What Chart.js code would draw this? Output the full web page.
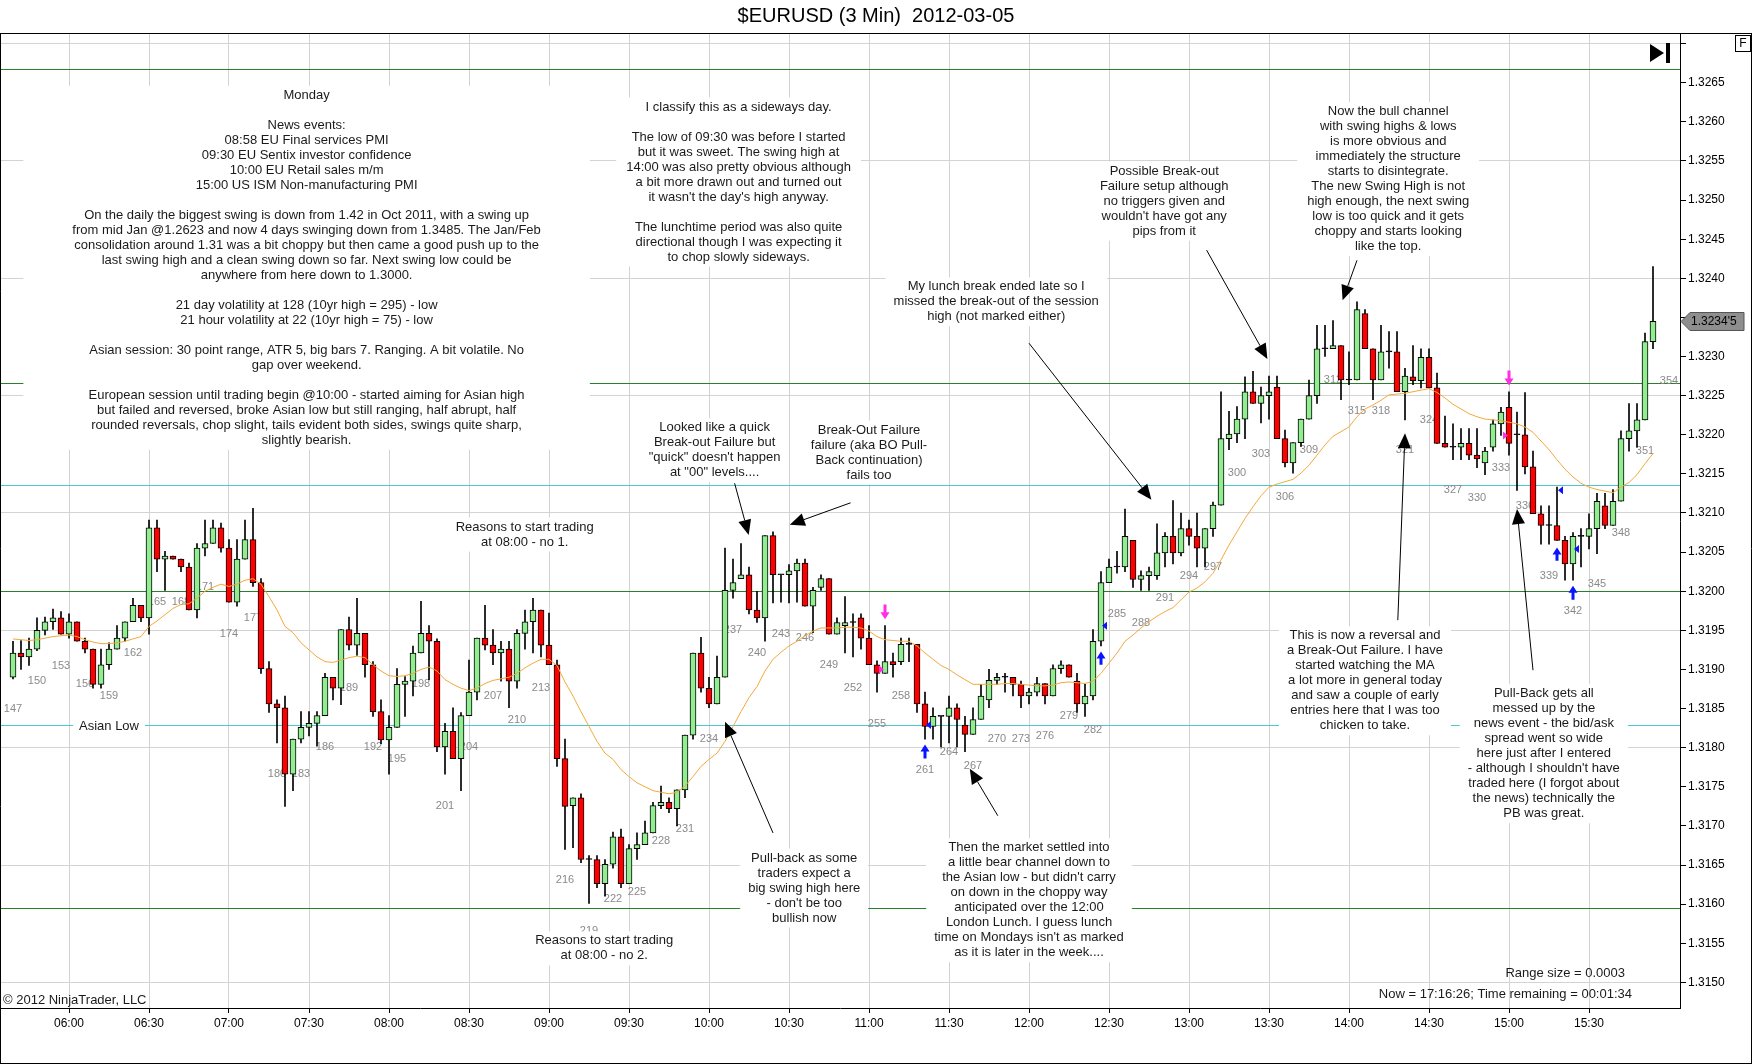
<!DOCTYPE html>
<html>
<head>
<meta charset="utf-8">
<title>$EURUSD (3 Min) 2012-03-05</title>
<script src="https://cdn.jsdelivr.net/npm/chart.js@4.4.1/dist/chart.umd.min.js"></script>
<style>
  html, body { margin: 0; padding: 0; background: #fff; overflow: hidden; }
  canvas { display: block; }
</style>
</head>
<body>
<canvas id="myChart" width="1752" height="1064"></canvas>
<script>
// bars are numbered like NinjaTrader does, first visible bar = 147 at 05:39, 3 minute bars
const firstBar = 147;
const firstBarTime = '05:39';
const barSpan = 3;

const opens = [
  1.31890,1.31921,1.31916,1.31926,1.31950,1.31961,1.31966,1.31945,1.31961,1.31936,
  1.31926,1.31881,1.31906,1.31926,1.31940,1.31961,1.31982,1.31966,1.32081,1.32041,
  1.32045,1.32041,1.32031,1.31976,1.32055,1.32061,1.32081,1.32055,1.31986,1.32041,
  1.32066,1.32011,1.31901,1.31856,1.31851,1.31766,1.31811,1.31826,1.31831,1.31841,
  1.31890,1.31876,1.31951,1.31931,1.31946,1.31906,1.31846,1.31810,1.31826,1.31881,
  1.31885,1.31921,1.31946,1.31936,1.31801,1.31821,1.31786,1.31841,1.31871,1.31940,
  1.31931,1.31921,1.31926,1.31885,1.31946,1.31961,1.31976,1.31931,1.31906,1.31786,
  1.31726,1.31736,1.31657,1.31657,1.31626,1.31651,1.31686,1.31626,1.31671,1.31676,
  1.31691,1.31726,1.31730,1.31722,1.31746,1.31816,1.31921,1.31876,1.31856,1.31890,
  1.32001,1.32016,1.32021,1.31976,1.31966,1.32071,1.32021,1.32021,1.32026,1.32036,
  1.31981,1.32005,1.32016,1.31945,1.31956,1.31960,1.31966,1.31940,1.31906,1.31895,
  1.31910,1.31910,1.31932,1.31932,1.31856,1.31827,1.31840,1.31840,1.31851,1.31829,
  1.31817,1.31836,1.31861,1.31886,1.31890,1.31890,1.31881,1.31866,1.31871,1.31882,
  1.31866,1.31901,1.31906,1.31885,1.31856,1.31866,1.31936,1.32011,1.32031,1.32031,
  1.32065,1.32015,1.32020,1.32020,1.32049,1.32070,1.32049,1.32080,1.32070,1.32055,
  1.32080,1.32110,1.32195,1.32201,1.32220,1.32255,1.32240,1.32250,1.32261,1.32195,
  1.32164,1.32190,1.32220,1.32250,1.32310,1.32310,1.32314,1.32270,1.32270,1.32355,
  1.32310,1.32270,1.32306,1.32306,1.32255,1.32274,1.32269,1.32299,1.32260,1.32189,
  1.32184,1.32184,1.32189,1.32174,1.32164,1.32184,1.32214,1.32235,1.32200,1.32200,
  1.32159,1.32099,1.32084,1.32084,1.32065,1.32035,1.32070,1.32070,1.32080,1.32109,
  1.32084,1.32115,1.32195,1.32205,1.32219,1.32319
];
const highs = [
  1.31936,1.31937,1.31940,1.31966,1.31967,1.31977,1.31974,1.31971,1.31961,1.31940,
  1.31926,1.31926,1.31934,1.31956,1.31961,1.31991,1.31982,1.32091,1.32091,1.32051,
  1.32045,1.32041,1.32036,1.32061,1.32091,1.32091,1.32087,1.32066,1.32066,1.32091,
  1.32106,1.32016,1.31910,1.31861,1.31866,1.31811,1.31846,1.31846,1.31846,1.31895,
  1.31890,1.31951,1.31967,1.31991,1.31946,1.31910,1.31861,1.31841,1.31901,1.31891,
  1.31930,1.31987,1.31956,1.31939,1.31831,1.31851,1.31845,1.31912,1.31940,1.31982,
  1.31951,1.31936,1.31936,1.31951,1.31976,1.31991,1.31976,1.31972,1.31912,1.31811,
  1.31736,1.31741,1.31662,1.31662,1.31657,1.31692,1.31696,1.31676,1.31691,1.31706,
  1.31730,1.31751,1.31736,1.31746,1.31816,1.31921,1.31941,1.31890,1.31917,1.32055,
  1.32041,1.32061,1.32031,1.32000,1.32071,1.32076,1.32021,1.32034,1.32041,1.32041,
  1.32005,1.32021,1.32016,1.31966,1.31993,1.31971,1.31971,1.31956,1.31911,1.31956,
  1.31921,1.31940,1.31940,1.31932,1.31871,1.31851,1.31840,1.31866,1.31856,1.31840,
  1.31851,1.31881,1.31900,1.31895,1.31895,1.31890,1.31885,1.31876,1.31890,1.31882,
  1.31906,1.31911,1.31906,1.31895,1.31881,1.31951,1.32025,1.32041,1.32051,1.32105,
  1.32065,1.32026,1.32031,1.32086,1.32075,1.32116,1.32100,1.32091,1.32100,1.32080,
  1.32114,1.32255,1.32230,1.32236,1.32274,1.32281,1.32261,1.32275,1.32275,1.32206,
  1.32190,1.32220,1.32270,1.32340,1.32340,1.32346,1.32314,1.32306,1.32370,1.32360,
  1.32310,1.32340,1.32332,1.32332,1.32285,1.32314,1.32310,1.32310,1.32279,1.32224,
  1.32214,1.32208,1.32208,1.32208,1.32184,1.32219,1.32235,1.32255,1.32229,1.32254,
  1.32179,1.32109,1.32109,1.32133,1.32070,1.32075,1.32080,1.32099,1.32125,1.32125,
  1.32130,1.32205,1.32240,1.32240,1.32330,1.32415
];
const lows = [
  1.31888,1.31900,1.31905,1.31924,1.31944,1.31951,1.31945,1.31940,1.31936,1.31921,
  1.31876,1.31876,1.31900,1.31926,1.31936,1.31961,1.31961,1.31945,1.32025,1.32001,
  1.32041,1.32025,1.31976,1.31966,1.32045,1.32061,1.32050,1.31986,1.31981,1.32041,
  1.32006,1.31895,1.31845,1.31806,1.31725,1.31745,1.31806,1.31815,1.31802,1.31841,
  1.31861,1.31855,1.31925,1.31918,1.31890,1.31840,1.31805,1.31766,1.31826,1.31840,
  1.31866,1.31921,1.31887,1.31795,1.31766,1.31786,1.31745,1.31841,1.31861,1.31925,
  1.31906,1.31885,1.31851,1.31876,1.31926,1.31921,1.31916,1.31906,1.31776,1.31670,
  1.31672,1.31653,1.31601,1.31621,1.31610,1.31646,1.31621,1.31626,1.31657,1.31676,
  1.31691,1.31722,1.31717,1.31700,1.31736,1.31811,1.31871,1.31851,1.31856,1.31890,
  1.31991,1.32016,1.31971,1.31960,1.31936,1.31985,1.31986,1.31985,1.31986,1.31981,
  1.31947,1.32001,1.31945,1.31945,1.31921,1.31916,1.31926,1.31906,1.31871,1.31895,
  1.31890,1.31906,1.31910,1.31845,1.31811,1.31811,1.31801,1.31806,1.31801,1.31795,
  1.31817,1.31836,1.31851,1.31881,1.31871,1.31866,1.31851,1.31856,1.31866,1.31856,
  1.31866,1.31895,1.31890,1.31845,1.31840,1.31861,1.31930,1.32011,1.32023,1.32025,
  1.32005,1.32001,1.32001,1.32015,1.32031,1.32035,1.32045,1.32059,1.32031,1.32031,
  1.32070,1.32110,1.32181,1.32190,1.32195,1.32240,1.32215,1.32220,1.32195,1.32159,
  1.32151,1.32185,1.32220,1.32240,1.32300,1.32310,1.32245,1.32264,1.32270,1.32310,
  1.32245,1.32270,1.32285,1.32255,1.32219,1.32264,1.32260,1.32260,1.32189,1.32184,
  1.32168,1.32168,1.32168,1.32158,1.32149,1.32179,1.32199,1.32174,1.32129,1.32150,
  1.32099,1.32060,1.32060,1.32065,1.32014,1.32014,1.32031,1.32054,1.32048,1.32080,
  1.32084,1.32115,1.32179,1.32184,1.32219,1.32310
];
const closes = [
  1.31921,1.31916,1.31926,1.31950,1.31961,1.31966,1.31945,1.31961,1.31936,1.31926,
  1.31881,1.31906,1.31926,1.31940,1.31961,1.31982,1.31966,1.32081,1.32041,1.32045,
  1.32041,1.32031,1.31976,1.32055,1.32061,1.32081,1.32055,1.31986,1.32041,1.32066,
  1.32011,1.31901,1.31856,1.31851,1.31766,1.31811,1.31826,1.31831,1.31841,1.31890,
  1.31876,1.31951,1.31931,1.31946,1.31906,1.31846,1.31810,1.31826,1.31881,1.31885,
  1.31921,1.31946,1.31936,1.31801,1.31821,1.31786,1.31841,1.31871,1.31940,1.31931,
  1.31921,1.31926,1.31885,1.31946,1.31961,1.31976,1.31931,1.31906,1.31786,1.31725,
  1.31736,1.31657,1.31657,1.31626,1.31651,1.31686,1.31626,1.31671,1.31676,1.31691,
  1.31726,1.31730,1.31722,1.31746,1.31816,1.31921,1.31876,1.31856,1.31890,1.32001,
  1.32011,1.32021,1.31976,1.31966,1.32071,1.32021,1.32021,1.32026,1.32036,1.31981,
  1.32001,1.32016,1.31945,1.31960,1.31960,1.31960,1.31940,1.31906,1.31895,1.31910,
  1.31906,1.31932,1.31932,1.31856,1.31827,1.31840,1.31840,1.31851,1.31836,1.31817,
  1.31836,1.31866,1.31886,1.31890,1.31890,1.31881,1.31866,1.31871,1.31882,1.31866,
  1.31901,1.31906,1.31890,1.31856,1.31866,1.31936,1.32011,1.32031,1.32031,1.32070,
  1.32015,1.32020,1.32025,1.32049,1.32070,1.32049,1.32080,1.32070,1.32055,1.32080,
  1.32110,1.32195,1.32201,1.32220,1.32255,1.32240,1.32250,1.32255,1.32195,1.32164,
  1.32190,1.32220,1.32250,1.32310,1.32310,1.32314,1.32270,1.32270,1.32360,1.32310,
  1.32270,1.32306,1.32306,1.32255,1.32275,1.32269,1.32299,1.32260,1.32189,1.32184,
  1.32184,1.32189,1.32174,1.32169,1.32179,1.32214,1.32229,1.32189,1.32200,1.32159,
  1.32099,1.32084,1.32084,1.32065,1.32035,1.32070,1.32070,1.32080,1.32115,1.32084,
  1.32115,1.32195,1.32205,1.32219,1.32319,1.32345
];
// moving average as plotted on the chart
const movingAvg = [
  1.31939,1.31938,1.31937,1.31938,1.31940,1.31942,1.31943,1.31944,1.31942,1.31938,
  1.31935,1.31933,1.31933,1.31934,1.31936,1.31939,1.31942,1.31955,1.31962,1.31970,
  1.31978,1.31983,1.31984,1.31991,1.32000,1.32005,1.32009,1.32006,1.32009,1.32014,
  1.32016,1.32009,1.31993,1.31976,1.31955,1.31947,1.31934,1.31925,1.31916,1.31910,
  1.31909,1.31912,1.31915,1.31917,1.31915,1.31906,1.31898,1.31892,1.31891,1.31892,
  1.31895,1.31900,1.31903,1.31898,1.31887,1.31881,1.31876,1.31873,1.31876,1.31882,
  1.31886,1.31888,1.31890,1.31895,1.31902,1.31908,1.31913,1.31913,1.31905,1.31884,
  1.31866,1.31846,1.31827,1.31808,1.31793,1.31785,1.31772,1.31763,1.31755,1.31750,
  1.31745,1.31743,1.31741,1.31743,1.31751,1.31763,1.31776,1.31785,1.31793,1.31808,
  1.31827,1.31846,1.31864,1.31878,1.31898,1.31913,1.31922,1.31930,1.31936,1.31943,
  1.31949,1.31953,1.31953,1.31953,1.31954,1.31954,1.31953,1.31949,1.31942,1.31938,
  1.31937,1.31936,1.31936,1.31930,1.31921,1.31913,1.31905,1.31900,1.31893,1.31887,
  1.31881,1.31881,1.31881,1.31881,1.31882,1.31882,1.31881,1.31880,1.31879,1.31879,
  1.31880,1.31883,1.31884,1.31883,1.31882,1.31885,1.31895,1.31908,1.31921,1.31936,
  1.31944,1.31953,1.31961,1.31968,1.31974,1.31979,1.31989,1.31999,1.32004,1.32012,
  1.32023,1.32040,1.32059,1.32076,1.32093,1.32108,1.32122,1.32133,1.32137,1.32140,
  1.32143,1.32151,1.32161,1.32174,1.32187,1.32198,1.32204,1.32210,1.32223,1.32233,
  1.32238,1.32244,1.32251,1.32252,1.32253,1.32255,1.32257,1.32259,1.32254,1.32247,
  1.32239,1.32233,1.32227,1.32223,1.32220,1.32219,1.32218,1.32216,1.32214,1.32210,
  1.32203,1.32192,1.32181,1.32168,1.32156,1.32146,1.32138,1.32133,1.32130,1.32128,
  1.32126,1.32133,1.32139,1.32149,1.32163,1.32176
];

// swing bar numbers printed in gray, and where they sit
const labelBars = [147,150,153,156,159,162,165,168,171,174,177,180,183,186,189,192,195,198,201,204,207,210,213,216,219,222,225,228,231,234,237,240,243,246,249,252,255,258,261,264,267,270,273,276,279,282,285,288,291,294,297,300,303,306,309,312,315,318,321,324,327,330,333,336,339,342,345,348,351,354];
const labelPrices = [1.31850,1.31885,1.31905,1.31882,1.31866,1.31921,1.31986,1.31986,1.32005,1.31945,1.31966,1.31767,1.31766,1.31801,1.31876,1.31801,1.31785,1.31881,1.31725,1.31801,1.31866,1.31835,1.31876,1.31631,1.31566,1.31607,1.31616,1.31681,1.31696,1.31811,1.31951,1.31921,1.31945,1.31940,1.31906,1.31876,1.31830,1.31866,1.31771,1.31795,1.31776,1.31811,1.31811,1.31815,1.31840,1.31822,1.31971,1.31960,1.31991,1.32020,1.32031,1.32151,1.32175,1.32120,1.32180,1.32270,1.32230,1.32230,1.32181,1.32219,1.32129,1.32119,1.32158,1.32109,1.32020,1.31975,1.32009,1.32074,1.32179,1.32269];

const greenLevels = [1.32668, 1.32266, 1.32000, 1.31595];
const cyanLevels = [1.32136, 1.31829];

const xTickLabels = ['06:00','06:30','07:00','07:30','08:00','08:30','09:00','09:30','10:00','10:30','11:00','11:30','12:00','12:30','13:00','13:30','14:00','14:30','15:00','15:30'];
const yTickValues = [1.3150,1.3155,1.3160,1.3165,1.3170,1.3175,1.3180,1.3185,1.3190,1.3195,1.3200,1.3205,1.3210,1.3215,1.3220,1.3225,1.3230,1.3235,1.3240,1.3245,1.3250,1.3255,1.3260,1.3265,1.3270];

// signal arrows from the strategy
const buyArrows = [[261, 1.31804, 1.31786], [283, 1.31923, 1.31906], [340, 1.32056, 1.32039], [342, 1.32007, 1.31989]];
const sellArrows = [[256, 1.31964, 1.31983], [334, 1.32263, 1.32282]];
const blueTicks = [[261, 1.31829], [283, 1.31956], [340, 1.32129], [342, 1.32054]];
const pinkTicks = [[256, 1.31900], [334, 1.32199]];

// text notes: bar / price of first line centre
const notes = [
  { bar: 183.7, price: 1.32634, padX: 49, lines: [
    'Monday', '', 'News events:', '08:58 EU Final services PMI', '09:30 EU Sentix investor confidence',
    '10:00 EU Retail sales m/m', '15:00 US ISM Non-manufacturing PMI', '',
    'On the daily the biggest swing is down from 1.42 in Oct 2011, with a swing up',
    'from mid Jan @1.2623 and now 4 days swinging down from 1.3485. The Jan/Feb',
    'consolidation around 1.31 was a bit choppy but then came a good push up to the',
    'last swing high and a clean swing down so far. Next swing low could be',
    'anywhere from here down to 1.3000.', '',
    '21 day volatility at 128 (10yr high = 295) - low',
    '21 hour volatility at 22 (10yr high = 75) - low', '',
    'Asian session: 30 point range, ATR 5, big bars 7. Ranging. A bit volatile. No',
    'gap over weekend.', '',
    'European session until trading begin @10:00 - started aiming for Asian high',
    'but failed and reversed, broke Asian low but still ranging, half abrupt, half',
    'rounded reversals, chop slight, tails evident both sides, swings quite sharp,',
    'slightly bearish.' ] },
  { bar: 237.7, price: 1.32619, padX: 10, lines: [
    'I classify this as a sideways day.', '',
    'The low of 09:30 was before I started', 'but it was sweet. The swing high at',
    '14:00 was also pretty obvious although', 'a bit more drawn out and turned out',
    "it wasn't the day's high anyway.", '',
    'The lunchtime period was also quite', 'directional though I was expecting it',
    'to chop slowly sideways.' ] },
  { bar: 210.96, price: 1.32082, padX: 8, lines: ['Reasons to start trading', 'at 08:00 - no 1.'] },
  { bar: 234.7, price: 1.32209, padX: 6, lines: ['Looked like a quick', 'Break-out Failure but', '"quick" doesn\'t happen', 'at "00" levels....'] },
  { bar: 254.0, price: 1.32206, padX: 6, lines: ['Break-Out Failure', 'failure (aka BO Pull-', 'Back continuation)', 'fails too'] },
  { bar: 269.9, price: 1.32389, padX: 8, lines: ['My lunch break ended late so I', 'missed the break-out of the session', 'high (not marked either)'] },
  { bar: 290.9, price: 1.32537, padX: 8, lines: ['Possible Break-out', 'Failure setup although', 'no triggers given and', "wouldn't have got any", 'pips from it'] },
  { bar: 318.9, price: 1.32613, padX: 10, lines: ['Now the bull channel', 'with swing highs & lows', 'is more obvious and', 'immediately the structure', 'starts to disintegrate.', 'The new Swing High is not', 'high enough, the next swing', 'low is too quick and it gets', 'choppy and starts looking', 'like the top.'] },
  { bar: 316.0, price: 1.31943, padX: 8, lines: ['This is now a reversal and', 'a Break-Out Failure. I have', 'started watching the MA', 'a lot more in general today', 'and saw a couple of early', 'entries here that I was too', 'chicken to take.'] },
  { bar: 338.35, price: 1.31869, padX: 8, lines: ['Pull-Back gets all', 'messed up by the', 'news event - the bid/ask', 'spread went so wide', 'here just after I entered', "- although I shouldn't have", 'traded here (I forgot about', 'the news) technically the', 'PB was great.'] },
  { bar: 245.9, price: 1.31659, padX: 8, lines: ['Pull-back as some', 'traders expect a', 'big swing high here', "- don't be too", 'bullish now'] },
  { bar: 274.0, price: 1.31672, padX: 8, lines: ['Then the market settled into', 'a little bear channel down to', "the Asian low - but didn't carry", 'on down in the choppy way', 'anticipated over the 12:00', 'London Lunch. I guess lunch', "time on Mondays isn't as marked", 'as it is later in the week....'] },
  { bar: 220.9, price: 1.31553, padX: 8, lines: ['Reasons to start trading', 'at 08:00 - no 2.'] },
  { bar: 159.0, price: 1.31827, padX: 6, lines: ['Asian Low'] }
];

// pointer arrows: from bar, from price, to bar, to price
const pointers = [
  [237.2, 1.32138, 238.96, 1.32072],
  [251.7, 1.32113, 244.1, 1.32085],
  [242.0, 1.31691, 236.0, 1.31833],
  [274.0, 1.32317, 289.3, 1.32117],
  [296.2, 1.32436, 303.8, 1.32297],
  [315.0, 1.32423, 313.2, 1.32372],
  [320.1, 1.31963, 321.0, 1.32202],
  [337.0, 1.31899, 335.0, 1.32105],
  [270.1, 1.31713, 266.6, 1.31773]
];

const FONT = '"Liberation Sans", Arial, sans-serif';
const xMin = 334.125, xMax = 964.125;
const yMin = 1.314672, yMax = 1.327123;

function toMinutes(hhmm) {
  const [h, m] = hhmm.split(':').map(Number);
  return h * 60 + m;
}
function barMinute(n) {
  return toMinutes(firstBarTime) + (n - firstBar) * barSpan;
}
function fmtTime(v) {
  const h = Math.floor(v / 60), m = Math.round(v % 60);
  return String(h).padStart(2, '0') + ':' + String(m).padStart(2, '0');
}

function drawPointer(ctx, x1, y1, x2, y2) {
  const ang = Math.atan2(y2 - y1, x2 - x1), len = 15, half = 6.5;
  const bx = x2 - len * Math.cos(ang), by = y2 - len * Math.sin(ang);
  ctx.beginPath();
  ctx.moveTo(x1, y1);
  ctx.lineTo(bx, by);
  ctx.stroke();
  ctx.beginPath();
  ctx.moveTo(x2, y2);
  ctx.lineTo(bx + half * Math.sin(ang), by - half * Math.cos(ang));
  ctx.lineTo(bx - half * Math.sin(ang), by + half * Math.cos(ang));
  ctx.closePath();
  ctx.fill();
}

function drawBlockArrow(ctx, x, yTip, yTail) {
  const d = yTail > yTip ? 1 : -1;
  const head = 7 * d;
  ctx.beginPath();
  ctx.moveTo(x, yTip);
  ctx.lineTo(x + 4.5, yTip + head);
  ctx.lineTo(x + 1.5, yTip + head);
  ctx.lineTo(x + 1.5, yTail);
  ctx.lineTo(x - 1.5, yTail);
  ctx.lineTo(x - 1.5, yTip + head);
  ctx.lineTo(x - 4.5, yTip + head);
  ctx.closePath();
  ctx.fill();
}

const chartExtras = {
  id: 'chartExtras',
  beforeDatasetsDraw(chart) {
    const { ctx, chartArea: a, scales: { x, y } } = chart;
    ctx.save();
    ctx.beginPath();
    ctx.rect(a.left, a.top, a.right - a.left, a.bottom - a.top);
    ctx.clip();

    // horizontal levels
    ctx.lineWidth = 1;
    ctx.strokeStyle = '#2a7f2a';
    greenLevels.forEach(v => {
      const py = Math.round(y.getPixelForValue(v)) + 0.5;
      ctx.beginPath(); ctx.moveTo(a.left, py); ctx.lineTo(a.right, py); ctx.stroke();
    });
    ctx.strokeStyle = '#4cc8d0';
    cyanLevels.forEach(v => {
      const py = Math.round(y.getPixelForValue(v)) + 0.5;
      ctx.beginPath(); ctx.moveTo(a.left, py); ctx.lineTo(a.right, py); ctx.stroke();
    });

    // bar numbers
    ctx.font = '11px ' + FONT;
    ctx.fillStyle = '#8a8a8a';
    ctx.textAlign = 'center';
    ctx.textBaseline = 'middle';
    labelBars.forEach((n, k) => {
      ctx.fillText(String(n), x.getPixelForValue(barMinute(n)), y.getPixelForValue(labelPrices[k]));
    });

    // notes with white background
    ctx.font = '13px ' + FONT;
    const lineH = 15;
    notes.forEach(note => {
      const cx = x.getPixelForValue(barMinute(note.bar));
      const cy = y.getPixelForValue(note.price);
      const w = Math.max(...note.lines.map(l => ctx.measureText(l).width));
      ctx.fillStyle = '#fff';
      ctx.fillRect(cx - w / 2 - note.padX, cy - lineH / 2 - 2, w + note.padX * 2, note.lines.length * lineH + 4);
      ctx.fillStyle = '#1a1a1a';
      note.lines.forEach((l, k) => ctx.fillText(l, cx, cy + k * lineH));
    });
    ctx.restore();
  },
  afterDatasetsDraw(chart) {
    const { ctx, chartArea: a, scales: { x, y } } = chart;
    ctx.save();
    ctx.beginPath();
    ctx.rect(a.left, a.top, a.right - a.left, a.bottom - a.top);
    ctx.clip();

    ctx.strokeStyle = '#000';
    ctx.fillStyle = '#000';
    ctx.lineWidth = 1;
    pointers.forEach(p => {
      drawPointer(ctx,
        x.getPixelForValue(barMinute(p[0])), y.getPixelForValue(p[1]),
        x.getPixelForValue(barMinute(p[2])), y.getPixelForValue(p[3]));
    });

    ctx.fillStyle = '#0a14ff';
    buyArrows.forEach(b => {
      drawBlockArrow(ctx, x.getPixelForValue(barMinute(b[0])), y.getPixelForValue(b[1]), y.getPixelForValue(b[2]));
    });
    blueTicks.forEach(t => {
      const px = x.getPixelForValue(barMinute(t[0])) + 1, py = y.getPixelForValue(t[1]);
      ctx.beginPath(); ctx.moveTo(px, py); ctx.lineTo(px + 5, py - 4); ctx.lineTo(px + 5, py + 4); ctx.closePath(); ctx.fill();
    });
    ctx.fillStyle = '#ff2ee6';
    sellArrows.forEach(s => {
      drawBlockArrow(ctx, x.getPixelForValue(barMinute(s[0])), y.getPixelForValue(s[1]), y.getPixelForValue(s[2]));
    });
    pinkTicks.forEach(t => {
      const px = x.getPixelForValue(barMinute(t[0])) - 1, py = y.getPixelForValue(t[1]);
      ctx.beginPath(); ctx.moveTo(px, py); ctx.lineTo(px - 5, py - 4); ctx.lineTo(px - 5, py + 4); ctx.closePath(); ctx.fill();
    });

    // play-to-end button
    const bx = a.right - 30, by = a.top + 10;
    ctx.fillStyle = '#000';
    ctx.beginPath(); ctx.moveTo(bx, by); ctx.lineTo(bx + 14, by + 9); ctx.lineTo(bx, by + 18); ctx.closePath(); ctx.fill();
    ctx.fillRect(bx + 16, by - 1, 4, 20);
    ctx.restore();
  },
  afterDraw(chart) {
    const { ctx, chartArea: a, scales: { y }, width, height } = chart;
    ctx.save();
    ctx.strokeStyle = '#000';
    ctx.lineWidth = 1;
    // frame
    ctx.beginPath();
    ctx.moveTo(0, a.top - 0.5); ctx.lineTo(width, a.top - 0.5);
    ctx.moveTo(0.5, a.top - 0.5); ctx.lineTo(0.5, height);
    ctx.moveTo(width - 0.5, a.top - 0.5); ctx.lineTo(width - 0.5, height - 0.5);
    ctx.moveTo(0, height - 0.5); ctx.lineTo(width, height - 0.5);
    ctx.stroke();

    // F box
    ctx.strokeRect(width - 16.5, a.top + 1.5, 15, 16);
    ctx.fillStyle = '#000';
    ctx.font = '12px ' + FONT;
    ctx.textAlign = 'center';
    ctx.textBaseline = 'middle';
    ctx.fillText('F', width - 9, a.top + 10);

    // last price marker, covers the axis label underneath
    const last = closes[closes.length - 1];
    const py = Math.round(y.getPixelForValue(last)) + 0.5;
    const x0 = a.right + 1;
    ctx.beginPath();
    ctx.moveTo(x0, py);
    ctx.lineTo(x0 + 9, py - 9);
    ctx.lineTo(width - 8, py - 9);
    ctx.lineTo(width - 8, py + 9);
    ctx.lineTo(x0 + 9, py + 9);
    ctx.closePath();
    ctx.fillStyle = '#8e8e8e';
    ctx.fill();
    ctx.strokeStyle = '#555';
    ctx.stroke();
    const s = last.toFixed(5);
    ctx.fillStyle = '#000';
    ctx.textAlign = 'left';
    ctx.font = '12px ' + FONT;
    ctx.fillText(s.slice(0, 6) + "'" + s.slice(6), x0 + 10, py + 0.5);

    // footer texts
    ctx.font = '13px ' + FONT;
    ctx.fillStyle = '#1a1a1a';
    ctx.textAlign = 'left';
    ctx.fillText('\u00a9 2012 NinjaTrader, LLC', 3, a.bottom - 8);
    ctx.textAlign = 'right';
    ctx.fillText('Range size = 0.0003', a.right - 55, a.bottom - 35);
    ctx.fillText('Now = 17:16:26; Time remaining = 00:01:34', a.right - 48, a.bottom - 14);
    ctx.restore();
  }
};

const upColor = '#90ee90';
const downColor = '#ff0000';

const config = {
  type: 'bar',
  data: {
    datasets: [
      {
        type: 'line',
        data: movingAvg.map((v, k) => ({ x: barMinute(firstBar + k), y: v })),
        borderColor: '#f2a93b',
        borderWidth: 1,
        pointRadius: 0,
        tension: 0,
        order: 0
      },
      {
        data: opens.map((o, k) => ({ x: barMinute(firstBar + k), y: [o, closes[k]] })),
        backgroundColor: (c) => {
          const k = c.dataIndex;
          if (k === undefined) return upColor;
          if (closes[k] > opens[k]) return upColor;
          if (closes[k] < opens[k]) return downColor;
          return '#000';
        },
        borderColor: '#000',
        borderWidth: 1,
        borderSkipped: false,
        barThickness: 6,
        minBarLength: 1,
        grouped: false,
        order: 1
      },
      {
        data: lows.map((l, k) => ({ x: barMinute(firstBar + k), y: [l, highs[k]] })),
        backgroundColor: '#000',
        borderWidth: 0,
        barThickness: 1,
        grouped: false,
        order: 2
      }
    ]
  },
  options: {
    responsive: false,
    animation: false,
    events: [],
    layout: { padding: 0 },
    plugins: {
      legend: { display: false },
      tooltip: { enabled: false },
      title: {
        display: true,
        text: '$EURUSD (3 Min)  2012-03-05',
        color: '#000',
        font: { family: FONT, size: 20, weight: 'normal' },
        padding: { top: 4, bottom: 6 }
      }
    },
    scales: {
      x: {
        type: 'linear',
        min: xMin,
        max: xMax,
        offset: false,
        grid: { color: '#d3d3d3', tickColor: '#000', tickLength: 5, offset: false },
        border: { display: true, color: '#000' },
        afterBuildTicks: (s) => { s.ticks = xTickLabels.map(t => ({ value: toMinutes(t) })); },
        ticks: {
          autoSkip: false,
          maxRotation: 0,
          padding: 3,
          color: '#000',
          font: { family: FONT, size: 12 },
          callback: (v) => fmtTime(v)
        },
        afterFit: (s) => { s.height = 56; }
      },
      y: {
        type: 'linear',
        position: 'right',
        min: yMin,
        max: yMax,
        grid: {
          color: (c) => {
            if (!c.tick) return 'rgba(0,0,0,0)';
            const k = Math.round(c.tick.value * 20000) - 26300;
            return k % 3 === 0 ? '#d3d3d3' : 'rgba(0,0,0,0)';
          },
          tickColor: '#000',
          tickLength: 6
        },
        border: { display: true, color: '#000' },
        afterBuildTicks: (s) => { s.ticks = yTickValues.map(v => ({ value: v })); },
        ticks: {
          padding: 2,
          color: '#000',
          font: { family: FONT, size: 12 },
          callback: (v) => (v > 1.32694 ? '' : v.toFixed(4))
        },
        afterFit: (s) => { s.width = 72; }
      }
    }
  },
  plugins: [chartExtras]
};

const myChart = new Chart(document.getElementById('myChart'), config);
</script>
</body>
</html>
